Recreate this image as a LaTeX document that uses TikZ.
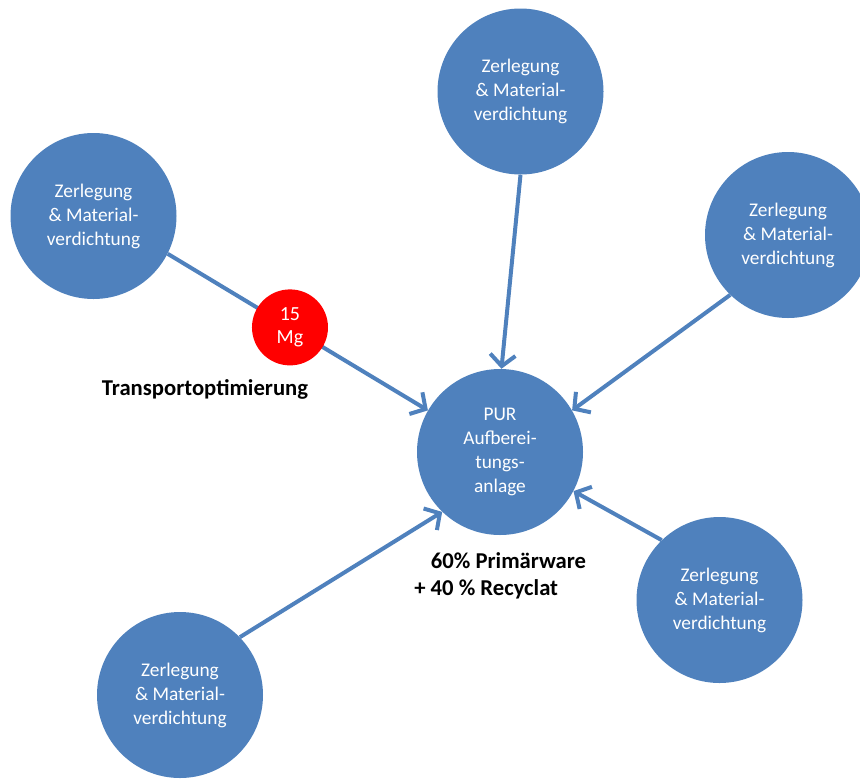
\documentclass[tikz,border=0pt]{standalone}
\usepackage{fontspec}
\setmainfont{Carlito}
\usetikzlibrary{arrows.meta}
\definecolor{purBlue}{RGB}{79,129,189}

\begin{document}
\begin{tikzpicture}[x=0.75pt, y=-0.75pt,
    disc/.style={circle, fill=purBlue, text=white, minimum size=124.5pt, inner sep=0pt,
                 align=center, font=\fontsize{14.5}{18}\selectfont},
    tonnage/.style={circle, fill=red, text=white, minimum size=57pt, inner sep=0pt,
                 align=center, font=\fontsize{15}{17.5}\selectfont},
    note/.style={inner sep=0pt, align=left, font=\fontsize{17}{20.25}\selectfont\bfseries},
    flow/.style={draw=purBlue, line width=3pt, -{Straight Barb[length=8.5pt, width=19pt]}}]
    \useasboundingbox (0,0) rectangle (860,779);
    \node[disc] (anlage) at (500,452)   {PUR\\Aufberei-\\tungs-\\anlage};
    \node[disc] (zerlN)  at (520.5,91.5) {Zerlegung\\\& Material-\\verdichtung};
    \node[disc] (zerlNW) at (93.5,216)  {Zerlegung\\\& Material-\\verdichtung};
    \node[disc] (zerlO)  at (788,235)   {Zerlegung\\\& Material-\\verdichtung};
    \node[disc] (zerlSO) at (719.5,600) {Zerlegung\\\& Material-\\verdichtung};
    \node[disc] (zerlSW) at (180,695)   {Zerlegung\\\& Material-\\verdichtung};

    \draw[flow] (zerlN.270)  -- (anlage.89);
    \draw[flow] (zerlNW.333) -- node[tonnage, pos=0.47] (mg) {15\\Mg} (anlage.150);
    \draw[flow] (zerlO.226)  -- (anlage.30);
    \draw[flow] (zerlSO.134) -- (anlage.332);
    \draw[flow] (zerlSW.44)  -- (anlage.226);

    \node[note] (transport) at (205,389) {Transportoptimierung};
    \node[note, anchor=west] (mix) at (414,576) {\hspace*{12.5pt}60\% Primärware\\+ 40 \% Recyclat};
\end{tikzpicture}
\end{document}
